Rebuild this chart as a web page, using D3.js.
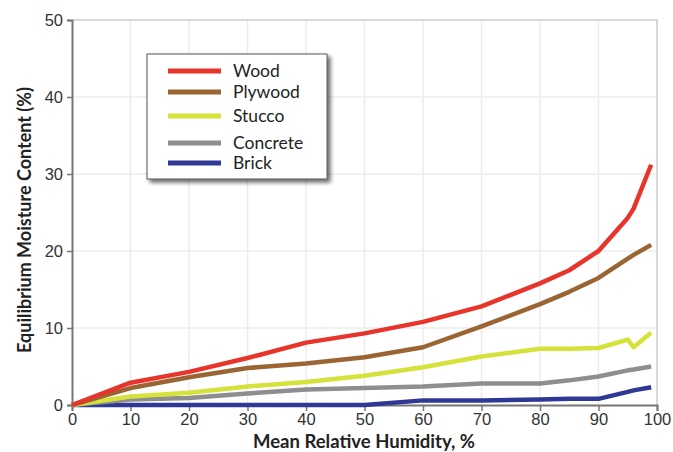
<!DOCTYPE html>
<html lang="en">
<head>
    <meta charset="utf-8">
    <title>Equilibrium Moisture Content</title>
    <script type="text/javascript" src="https://d3js.org/d3.v7.min.js"></script>
    <style type="text/css">
        body { margin: 0; background: #fff; }
        svg { font-family: Lato, "Open Sans", sans-serif; }
        .tick text { font-size: 16.5px; fill: #333; }
        .axis-title { font-weight: bold; fill: #222; }
        .legend-label { font-size: 17.5px; fill: #222; }
    </style>
</head>
<body>
<div id="chart"></div>
<script type="text/javascript">

    //Data
    var humidity   = [0, 10, 20, 30, 40, 50, 60, 70, 80, 85, 90, 95, 96, 99];
    var wood       = [0, 2.9, 4.3, 6.1, 8.1, 9.3, 10.8, 12.8, 15.8, 17.5, 20.0, 24.3, 25.5, 31.2];
    var plywood    = [0, 2.2, 3.6, 4.8, 5.4, 6.2, 7.5, 10.2, 13.1, 14.7, 16.5, 19.0, 19.5, 20.8];
    var stucco     = [0, 1.1, 1.6, 2.4, 3.0, 3.8, 4.9, 6.3, 7.3, 7.3, 7.4, 8.5, 7.5, 9.4];
    var concrete   = [0, 0.7, 0.9, 1.5, 2.0, 2.2, 2.4, 2.8, 2.8, 3.2, 3.7, 4.5, 4.6, 5.0];
    var brick      = [0, 0, 0, 0, 0, 0, 0.6, 0.6, 0.7, 0.8, 0.8, 1.7, 1.9, 2.3];

    var seriesNames  = ["Wood", "Plywood", "Stucco", "Concrete", "Brick"];
    var seriesValues = [wood, plywood, stucco, concrete, brick];
    var seriesColors = ["#e8352c", "#9b6433", "#d5e23a", "#8e8e8e", "#303896"];

    var xTicks = [0, 10, 20, 30, 40, 50, 60, 70, 80, 90, 100];
    var yTicks = [0, 10, 20, 30, 40, 50];

    //Width and height
    var w = 673;
    var h = 452;
    var margin = { left: 72, right: 16, top: 20, bottom: 47 };

    var svg = d3.select("#chart")
        .append("svg")
        .attr("width", w)
        .attr("height", h);

    var x = d3.scaleLinear().domain([0, 100]).range([margin.left, w - margin.right]);
    var y = d3.scaleLinear().domain([0, 50]).range([h - margin.bottom, margin.top]);

    //Grid lines
    svg.append("g")
        .selectAll("line.vgrid")
        .data(xTicks.slice(1))
        .enter()
        .append("line")
        .attr("x1", function (d) { return x(d); })
        .attr("x2", function (d) { return x(d); })
        .attr("y1", y(0))
        .attr("y2", y(50))
        .attr("stroke", "#ececec")
        .attr("stroke-width", 1.5);

    svg.append("g")
        .selectAll("line.hgrid")
        .data(yTicks.slice(1))
        .enter()
        .append("line")
        .attr("x1", x(0))
        .attr("x2", x(100))
        .attr("y1", function (d) { return y(d); })
        .attr("y2", function (d) { return y(d); })
        .attr("stroke", "#ececec")
        .attr("stroke-width", 1.5);

    //Top and right frame
    svg.append("path")
        .attr("d", "M" + x(0) + "," + y(50) + "H" + x(100) + "V" + y(0))
        .attr("fill", "none")
        .attr("stroke", "#cfcfcf")
        .attr("stroke-width", 1.5);

    //Axes
    var xAxis = svg.append("g")
        .attr("transform", "translate(0," + y(0) + ")")
        .call(d3.axisBottom(x).tickValues(xTicks).tickSize(6).tickPadding(2));
    xAxis.select(".domain").attr("stroke", "#777").attr("stroke-width", 2);
    xAxis.selectAll(".tick line").attr("stroke", "#777").attr("stroke-width", 1.5);

    var yAxis = svg.append("g")
        .attr("transform", "translate(" + x(0) + ",0)")
        .call(d3.axisLeft(y).tickValues(yTicks).tickSize(5).tickPadding(4));
    yAxis.select(".domain").attr("stroke", "#777").attr("stroke-width", 2);
    yAxis.selectAll(".tick line").attr("stroke", "#777").attr("stroke-width", 1.5);

    //Series lines
    var line = d3.line()
        .x(function (d, i) { return x(humidity[i]); })
        .y(function (d) { return y(d); });

    svg.append("g")
        .selectAll("path")
        .data(seriesValues.slice().reverse())
        .enter()
        .append("path")
        .attr("d", line)
        .attr("fill", "none")
        .attr("stroke", function (d, i) { return seriesColors.slice().reverse()[i]; })
        .attr("stroke-width", 4.5)
        .attr("stroke-linejoin", "round");

    //Axis titles
    svg.append("text")
        .attr("class", "axis-title")
        .attr("x", 364)
        .attr("y", 448)
        .attr("text-anchor", "middle")
        .style("font-size", "18.5px")
        .text("Mean Relative Humidity, %");

    svg.append("text")
        .attr("class", "axis-title")
        .attr("transform", "translate(31,220) rotate(-90)")
        .attr("text-anchor", "middle")
        .style("font-size", "18px")
        .text("Equilibrium Moisture Content (%)");

    //Legend with shadow
    var defs = svg.append("defs");
    var filter = defs.append("filter").attr("id", "shadow")
        .attr("x", "-10%").attr("y", "-10%").attr("width", "130%").attr("height", "130%");
    filter.append("feGaussianBlur").attr("in", "SourceAlpha").attr("stdDeviation", 2);
    filter.append("feOffset").attr("dx", 3).attr("dy", 3).attr("result", "blur");
    filter.append("feComponentTransfer").append("feFuncA").attr("type", "linear").attr("slope", 0.6);
    var merge = filter.append("feMerge");
    merge.append("feMergeNode");
    merge.append("feMergeNode").attr("in", "SourceGraphic");

    var legend = svg.append("g").attr("transform", "translate(147,54)");
    legend.append("rect")
        .attr("width", 180)
        .attr("height", 125)
        .attr("fill", "#fff")
        .attr("stroke", "#555")
        .attr("stroke-width", 1)
        .style("filter", "url(#shadow)");

    var rowY = [17, 38, 62, 89, 109];
    var rows = legend.selectAll("g.row")
        .data(seriesNames)
        .enter()
        .append("g")
        .attr("transform", function (d, i) { return "translate(0," + rowY[i] + ")"; });

    rows.append("line")
        .attr("x1", 21).attr("x2", 74)
        .attr("stroke", function (d, i) { return seriesColors[i]; })
        .attr("stroke-width", 5);

    rows.append("text")
        .attr("class", "legend-label")
        .attr("x", 86)
        .attr("dy", "0.35em")
        .text(function (d) { return d; });

</script>
</body>
</html>
